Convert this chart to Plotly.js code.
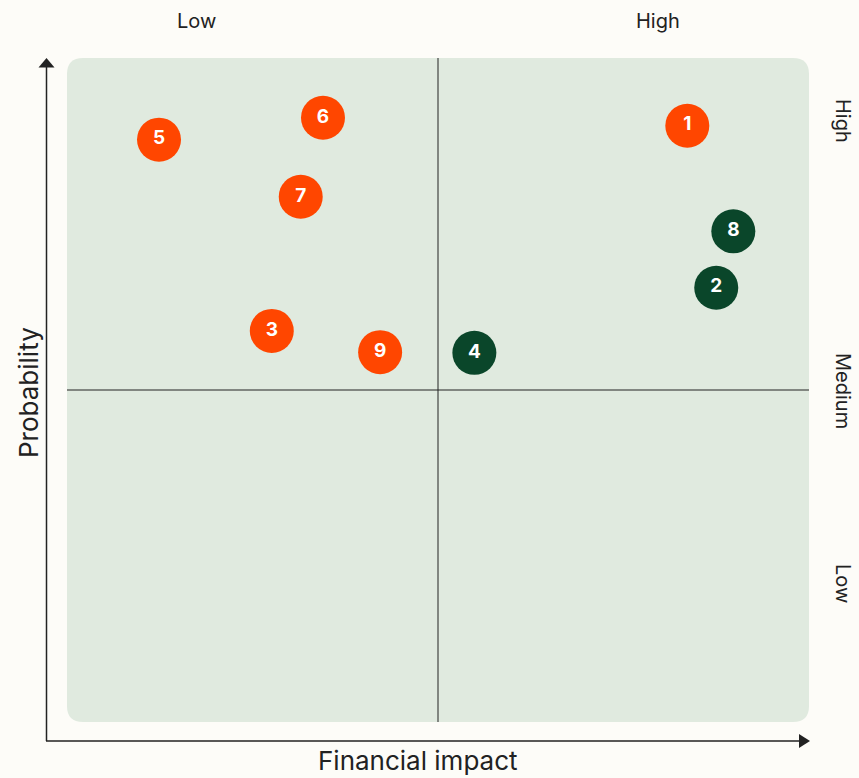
<!DOCTYPE html>
<html>
<head>
<meta charset="utf-8">
<script src="https://cdn.plot.ly/plotly-3.0.1.min.js"></script>
<style>
html,body{margin:0;padding:0;background:#fdfcf8;}
#chart{width:859px;height:778px;}
</style>
</head>
<body>
<div id="chart"></div>
<script>
// Data
const riskIds = ["1","2","3","4","5","6","7","8","9"];
const financialImpact = [8.36, 8.75, 2.76, 5.49, 1.24, 3.45, 3.15, 8.98, 4.22];
const probability =     [8.98, 6.54, 5.89, 5.56, 8.77, 9.10, 7.91, 7.39, 5.57];
const riskGroup = ["orange","green","orange","green","orange","orange","orange","green","orange"];
const xLevelLabels = ["Low", "High"];
const yLevelLabels = ["High", "Medium", "Low"];

const groupColors = {orange: "#ff4600", green: "#0a462a"};

const W = 859, H = 778;
const mL = 46, mR = 49, mT = 58, mB = 37;
const pxW = W - mL - mR, pxH = H - mT - mB;
// panel occupies 0..10 on both axes
const xUnit = 742 / 10, yUnit = 664 / 10;
const xr = [-(67 - mL) / xUnit, 10 + (W - mR - 809) / xUnit];
const yr = [-((H - mB) - 722) / yUnit, 10 + (58 - mT) / yUnit];

const trace = {
  type: "scatter",
  mode: "markers+text",
  x: financialImpact,
  y: probability,
  text: riskIds,
  textposition: "middle center",
  textfont: {family: "Inter, 'Noto Sans', sans-serif", size: 19, color: "#ffffff", weight: 700},
  marker: {size: 44, color: riskGroup.map(g => groupColors[g]), line: {width: 0}},
  hoverinfo: "skip",
  cliponaxis: false,
  showlegend: false
};

// rounded panel path in data coords
const rx = 16 / xUnit, ry = 16 / yUnit;
const panelPath = `M ${rx},0 L ${10-rx},0 Q 10,0 10,${ry} L 10,${10-ry} Q 10,10 ${10-rx},10 L ${rx},10 Q 0,10 0,${10-ry} L 0,${ry} Q 0,0 ${rx},0 Z`;

function px2paperX(p){ return (p - mL) / pxW; }
function px2paperY(p){ return 1 - (p - mT) / pxH; }

const labelFont = {family: "Inter, 'Noto Sans', sans-serif", size: 20, color: "#222222"};
const titleFont = {family: "Inter, 'Noto Sans', sans-serif", size: 26, color: "#222222"};

const layout = {
  width: W, height: H,
  margin: {l: mL, r: mR, t: mT, b: mB, pad: 0},
  paper_bgcolor: "#fdfcf8",
  plot_bgcolor: "rgba(0,0,0,0)",
  xaxis: {range: xr, showgrid: false, zeroline: false, showticklabels: false, ticks: "",
          showline: false, fixedrange: true},
  yaxis: {range: yr, showgrid: false, zeroline: false, showticklabels: false, ticks: "",
          showline: false, fixedrange: true},
  shapes: [
    {type: "path", path: panelPath, xref: "x", yref: "y", fillcolor: "#e0eadf", line: {width: 0}, layer: "below"},
    {type: "line", xref: "x", yref: "y", x0: 5, x1: 5, y0: 0, y1: 10, line: {color: "#222222", width: 1}, layer: "below"},
    {type: "line", xref: "x", yref: "y", x0: 0, x1: 10, y0: 5, y1: 5, line: {color: "#222222", width: 1}, layer: "below"},
    // axis lines
    {type: "line", xref: "paper", yref: "paper", x0: px2paperX(46.5), x1: px2paperX(46.5), y0: px2paperY(741), y1: px2paperY(66), line: {color: "#222222", width: 1.5}},
    {type: "line", xref: "paper", yref: "paper", x0: px2paperX(46), x1: px2paperX(800), y0: px2paperY(741), y1: px2paperY(741), line: {color: "#222222", width: 1.5}},
    // arrowheads
    {type: "path", xref: "paper", yref: "paper",
     path: `M ${px2paperX(38.5)},${px2paperY(67.5)} L ${px2paperX(46.5)},${px2paperY(58)} L ${px2paperX(54.5)},${px2paperY(67.5)} Z`,
     fillcolor: "#222222", line: {width: 0}},
    {type: "path", xref: "paper", yref: "paper",
     path: `M ${px2paperX(799)},${px2paperY(734)} L ${px2paperX(810)},${px2paperY(741)} L ${px2paperX(799)},${px2paperY(748)} Z`,
     fillcolor: "#222222", line: {width: 0}}
  ],
  annotations: [
    {text: xLevelLabels[0], xref: "paper", yref: "paper", x: px2paperX(196), y: px2paperY(21), showarrow: false, font: labelFont, xanchor: "center", yanchor: "middle"},
    {text: xLevelLabels[1], xref: "paper", yref: "paper", x: px2paperX(658), y: px2paperY(21), showarrow: false, font: labelFont, xanchor: "center", yanchor: "middle"},
    {text: yLevelLabels[0], xref: "paper", yref: "paper", x: px2paperX(843), y: px2paperY(121), showarrow: false, font: labelFont, textangle: 90, xanchor: "center", yanchor: "middle"},
    {text: yLevelLabels[1], xref: "paper", yref: "paper", x: px2paperX(843), y: px2paperY(391), showarrow: false, font: labelFont, textangle: 90, xanchor: "center", yanchor: "middle"},
    {text: yLevelLabels[2], xref: "paper", yref: "paper", x: px2paperX(843), y: px2paperY(583), showarrow: false, font: labelFont, textangle: 90, xanchor: "center", yanchor: "middle"},
    {text: "Financial impact", xref: "paper", yref: "paper", x: px2paperX(418), y: px2paperY(778), showarrow: false,
     font: titleFont, xanchor: "center", yanchor: "bottom", yshift: 0},
    {text: "Probability", xref: "paper", yref: "paper", x: px2paperX(28), y: px2paperY(393), showarrow: false, textangle: -90,
     font: titleFont, xanchor: "center", yanchor: "middle"}
  ]
};

Plotly.newPlot("chart", [trace], layout, {displayModeBar: false, staticPlot: true});
</script>
</body>
</html>
